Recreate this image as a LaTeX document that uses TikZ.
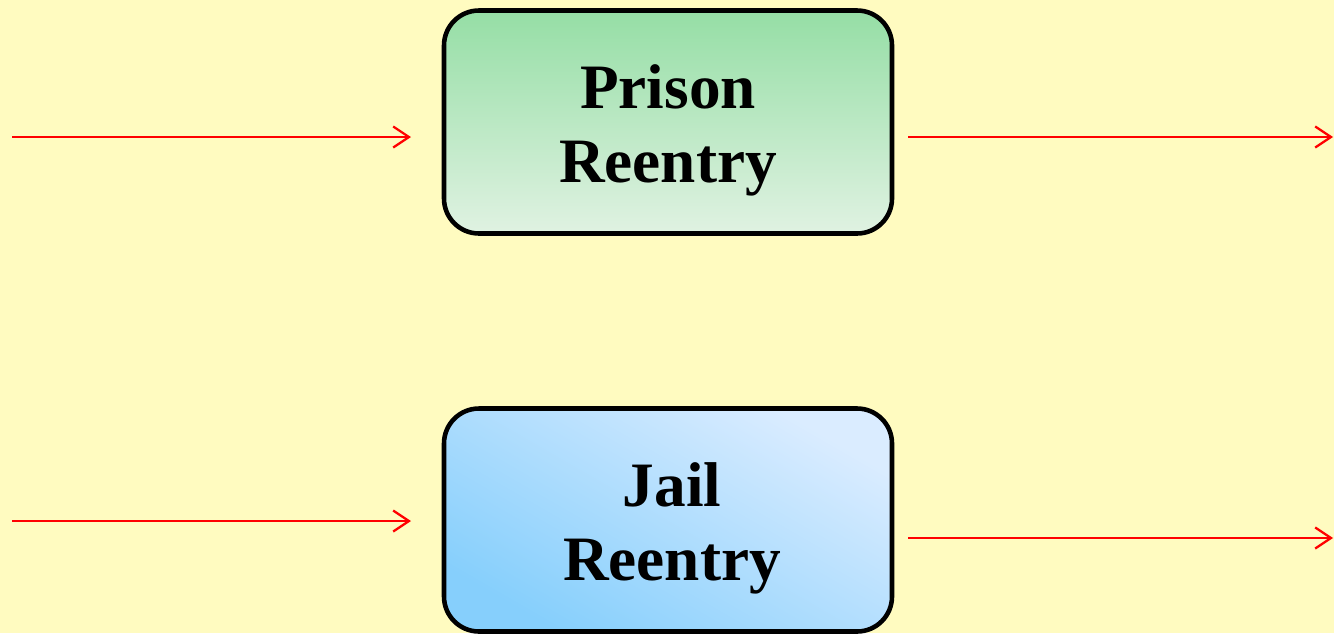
\documentclass[tikz,border=0pt]{standalone}
\usepackage{fontspec}
\setmainfont{Liberation Serif}
\usetikzlibrary{arrows.meta}
\definecolor{bgyellow}{RGB}{255,251,192}
\definecolor{greentop}{RGB}{149,222,165}
\definecolor{greenbot}{RGB}{224,242,226}
\definecolor{bluelight}{RGB}{218,236,255}
\definecolor{bluedark}{RGB}{134,207,252}
\begin{document}
\begin{tikzpicture}[x=0.02cm,y=-0.02cm]
\tikzstyle{stage}=[draw=black,line width=2.6pt,rounded corners=0.7cm,minimum width=448*0.02cm,minimum height=223*0.02cm,inner sep=0pt]
\tikzstyle{stagetext}=[align=center,font=\fontsize{36}{42}\selectfont\bfseries,inner sep=0pt,yshift=-0.16cm]
\tikzstyle{flow}=[red,line width=1.3pt,-{Straight Barb[length=9pt,width=12pt]}]
\fill[bgyellow] (0,0) rectangle (1334,633);
\useasboundingbox (0,0) rectangle (1334,633);
\node[stage,top color=greentop,bottom color=greenbot,label={[stagetext]center:Prison\\Reentry}] (prison) at (668,122) {};
\node[stage,top color=bluelight,bottom color=bluedark,shading angle=-30,label={[stagetext,xshift=0.08cm]center:Jail\\Reentry}] (jail) at (668,520) {};
\coordinate (pin) at (12,137);
\coordinate (pend) at (411,137);
\coordinate (pout) at (908,137);
\coordinate (pfar) at (1333,137);
\coordinate (jin) at (12,521);
\coordinate (jend) at (411,521);
\coordinate (jout) at (908,538);
\coordinate (jfar) at (1333,538);
\draw[flow] (pin) -- (pend);
\draw[flow] (pout) -- (pfar);
\draw[flow] (jin) -- (jend);
\draw[flow] (jout) -- (jfar);
\end{tikzpicture}
\end{document}
